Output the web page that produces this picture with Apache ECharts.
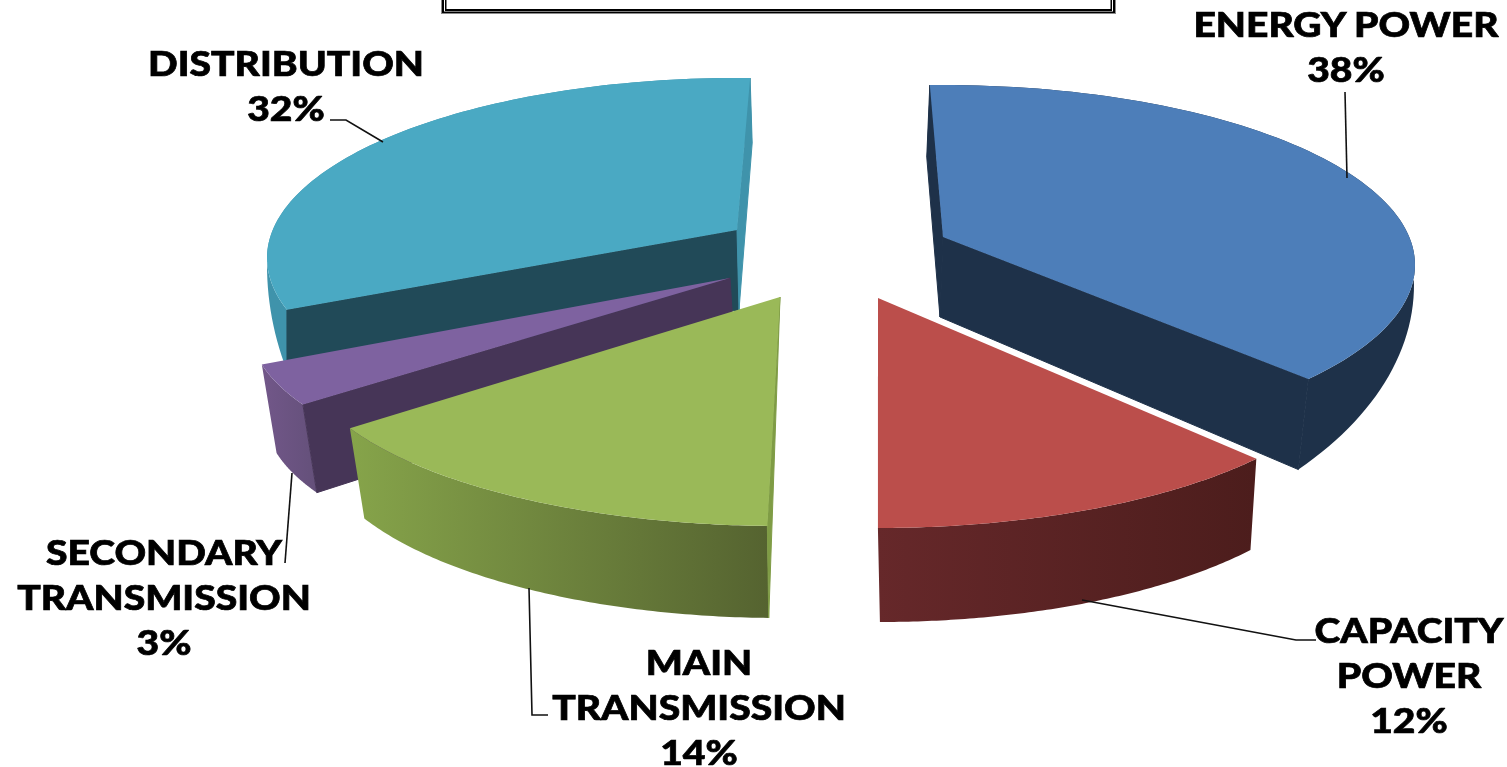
<!DOCTYPE html>
<html>
<head>
<meta charset="utf-8">
<style>html,body{margin:0;padding:0;background:#fff}#c{width:1507px;height:767px}</style>
<script src="https://cdn.jsdelivr.net/npm/echarts@6/dist/echarts.min.js"></script>
</head>
<body>
<div id="c"></div>
<script>
// ---- data ----
const categories = ['ENERGY\u00A0POWER', 'CAPACITY\nPOWER', 'MAIN\nTRANSMISSION', 'SECONDARY\nTRANSMISSION', 'DISTRIBUTION'];
const values = [38, 12, 14, 3, 32];

// ---- styling / layout (exploded slice geometry, colours, label places) ----
const topColors  = ['#4d7eb9', '#bb4e4b', '#9ab958', '#7e62a0', '#4aa9c3'];
const startCut   = ['#1e3149', null, '#7f9c45', '#463557', '#214a58'];
const endCut     = ['#1e3149', null, null, null, '#3f93ab'];
const wallLeft   = ['#1e3149', '#66282a', '#86a44a', '#725789', '#3f93ab'];
const wallRight  = ['#1e3149', '#4c1d1c', '#556330', '#64507a', '#3f93ab'];
// apex, ellipse centre drop and radii for the top and bottom rims of each exploded slice
const topRim = [
  {ax: 943, ay: 237, drop: 28, rx: 472, ryBack: 180, ryFront: 180},
  {ax: 878, ay: 298, drop: 50, rx: 480, ryBack: 180, ryFront: 180},
  {ax: 780, ay: 297, drop: 53, rx: 480, ryBack: 176, ryFront: 176},
  {ax: 730, ay: 278, drop: 49, rx: 480, ryBack: 170, ryFront: 170},
  {ax: 737, ay: 230, drop: 28, rx: 470, ryBack: 180, ryFront: 180}
];
const botRim = [
  {ax: 940, ay: 317, drop: -32, rx: 474, ryBack: 128, ryFront: 282},
  {ax: 880, ay: 385, drop: 50, rx: 470, ryBack: 187, ryFront: 187},
  {ax: 781, ay: 385, drop: 54, rx: 465, ryBack: 179, ryFront: 179},
  {ax: 735, ay: 358, drop: 58, rx: 470, ryBack: 168, ryFront: 168},
  {ax: 739, ay: 310, drop: -45, rx: 472, ryBack: 122, ryFront: 368}
];
const tilt = 0.724;                      // perspective squeeze of the pie plane
const nudge = [[-1.6, 0.3], [-1, -2.5], [-1, 2.5], [1.7, 7], [3, 1.6]];
const botEndNudge = [1.6, 0, 0, 0, 0];
const paintOrder = [4, 0, 3, 2, 1];
const labelAt = [[1346, 26], [1409, 632], [699, 664], [164, 554], [286, 65]];
const leaders = [
  [[1345, 92], [1347, 178]],
  [[1082, 600], [1296, 640], [1316, 640]],
  [[529, 588], [532, 715], [548, 715]],
  [[292, 473], [285, 563]],
  [[330, 120], [346, 120], [383, 142]]
];
const labelFont = '900 33.5px Lato, "Open Sans", sans-serif';
const labelStretch = 1.165;

// ---- angles come from the values ----
const total = values.reduce((a, b) => a + b, 0);
function warp(deg) {
  const r = deg * Math.PI / 180;
  let w = Math.atan2(tilt * Math.sin(r), Math.cos(r)) * 180 / Math.PI;
  while (w < deg - 90) w += 360;
  while (w > deg + 90) w -= 360;
  return w;
}
const spans = [];
let running = -90;
values.forEach((v, i) => {
  const a = running, b = running + v / total * 360;
  spans.push([warp(a) + nudge[i][0], warp(b) + nudge[i][1]]);
  running = b;
});

function rimPoint(rim, deg) {
  const r = deg * Math.PI / 180;
  const s = Math.sin(r);
  return [rim.ax + rim.rx * Math.cos(r), rim.ay + rim.drop + (s > 0 ? rim.ryFront : rim.ryBack) * s];
}
function arc(rim, a, b) {
  const pts = [], n = 90;
  for (let k = 0; k <= n; k++) pts.push(rimPoint(rim, a + (b - a) * k / n));
  return pts;
}
function poly(points, fill, z2, seal) {
  return {type: 'polygon', z2: z2, shape: {points: points},
    style: {fill: fill, stroke: seal ? fill : null, lineWidth: seal ? 1 : 0}};
}

function renderSlice(params, api) {
  const i = api.value(0);
  const rank = params.dataIndex * 10;
  const t = topRim[i], b = botRim[i];
  const a0 = spans[i][0], a1 = spans[i][1];
  const A = [t.ax, t.ay], B = [b.ax, b.ay];
  const topArc = arc(t, a0, a1), botArc = arc(b, a0, a1 + botEndNudge[i]);
  const wallFill = {
    type: 'linear', x: 0, y: 0, x2: 1, y2: 0,
    colorStops: [{offset: 0, color: wallLeft[i]}, {offset: 1, color: wallRight[i]}]
  };
  const kids = [poly(topArc.concat(botArc.slice().reverse()), wallFill, rank + 1)];
  if (startCut[i]) {
    // the green sliver shows only as a wedge running from its apex to the lower rim
    kids.push(poly(i === 2 ? [A, topArc[0], botArc[0]] : [A, topArc[0], botArc[0], B], startCut[i], rank + 2, true));
  }
  if (endCut[i]) {
    kids.push(poly([A, topArc[90], botArc[90], B], endCut[i], rank + 2, true));
  }
  kids.push(poly([A].concat(topArc), topColors[i], rank + 3));
  return {type: 'group', children: kids};
}
function renderLabel(params, api) {
  const i = api.value(0);
  return {
    type: 'group',
    children: [
      {type: 'polyline', z2: 100, shape: {points: leaders[i]}, style: {stroke: '#111', lineWidth: 1.6, fill: null}},
      {type: 'text', z2: 100, x: labelAt[i][0], y: labelAt[i][1] - 22, scaleX: labelStretch, style: {
        text: categories[i] + '\n' + api.value(1) + '%',
        x: 0, y: 0,
        align: 'center', verticalAlign: 'top',
        font: labelFont, lineHeight: 45, fill: '#000', stroke: '#000', lineWidth: 0.7
      }}
    ]
  };
}

const chart = echarts.init(document.getElementById('c'), null, {renderer: 'canvas'});
chart.setOption({
  animation: false,
  backgroundColor: '#ffffff',
  graphic: [
    {type: 'rect', shape: {x: 441, y: 0, width: 675, height: 14}, style: {fill: '#8a8a8a'}, z: 1},
    {type: 'rect', shape: {x: 442, y: 0, width: 673, height: 13}, style: {fill: '#000'}, z: 1},
    {type: 'rect', shape: {x: 444, y: 0, width: 669, height: 11.5}, style: {fill: '#fff'}, z: 1},
    {type: 'rect', shape: {x: 445, y: 0, width: 667, height: 11}, style: {fill: '#000'}, z: 1},
    {type: 'rect', shape: {x: 446.5, y: 0, width: 664, height: 9}, style: {fill: '#fff'}, z: 1}
  ],
  series: [
    {
      type: 'custom', coordinateSystem: 'none', silent: true, z: 2,
      data: paintOrder.map(i => [i, values[i]]),
      renderItem: renderSlice
    },
    {
      type: 'custom', coordinateSystem: 'none', silent: true, z: 3,
      data: categories.map((c, i) => [i, values[i]]),
      renderItem: renderLabel
    }
  ]
});
</script>
</body>
</html>
